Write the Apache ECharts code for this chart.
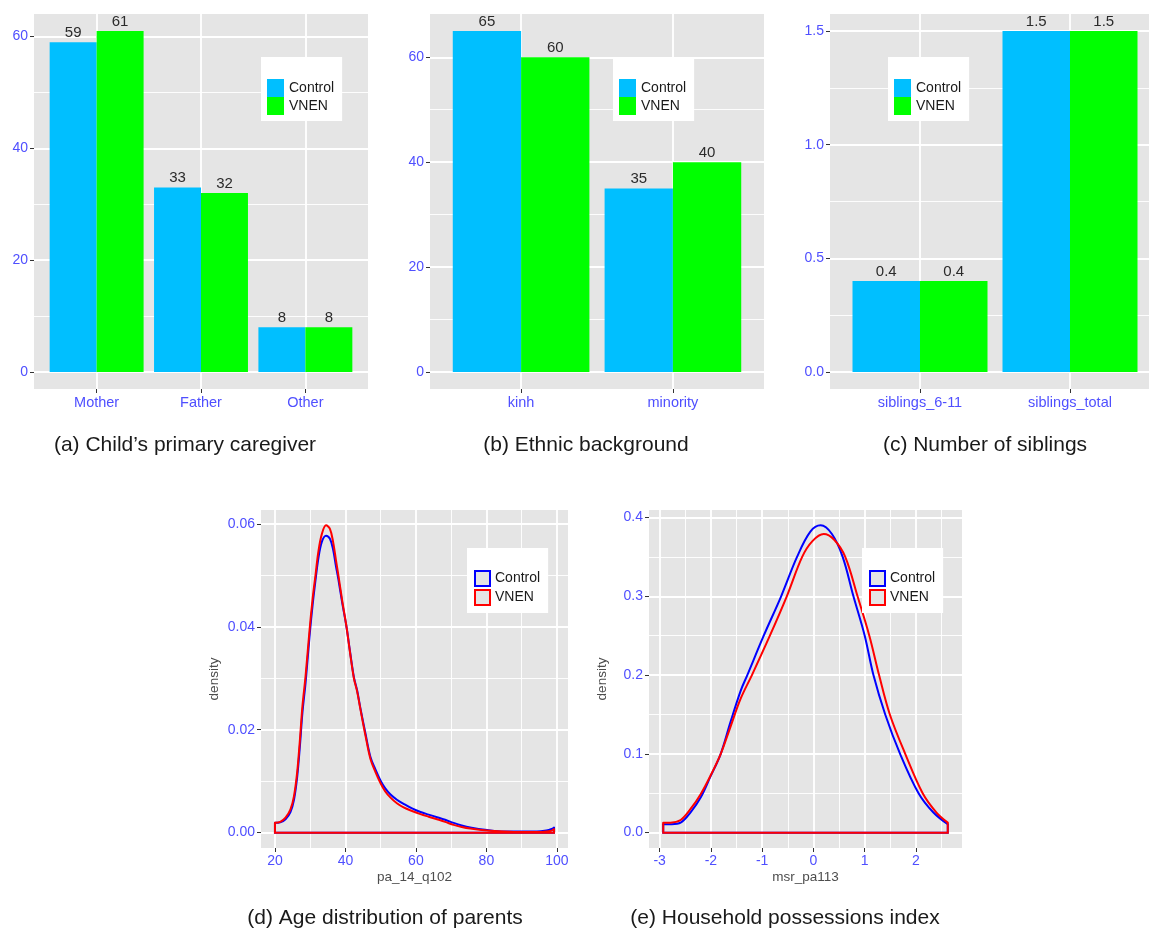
<!DOCTYPE html>
<html><head><meta charset="utf-8">
<script src="https://cdn.jsdelivr.net/npm/echarts@6/dist/echarts.min.js"></script>
<style>html,body{margin:0;padding:0;background:#fff}#c{width:1149px;height:930px}</style>
</head><body><div id="c"></div>
<script>
// ---------- data ----------
const caregiverCats = ['Mother', 'Father', 'Other'];
const caregiverControl = [59, 33, 8];
const caregiverVNEN = [61, 32, 8];
const caregiverYTicks = [0, 20, 40, 60];
const caregiverYMinor = [10, 30, 50];

const ethnicCats = ['kinh', 'minority'];
const ethnicControl = [65, 35];
const ethnicVNEN = [60, 40];
const ethnicYTicks = [0, 20, 40, 60];
const ethnicYMinor = [10, 30, 50];

const siblingCats = ['siblings_6-11', 'siblings_total'];
const siblingControl = [0.4, 1.5];
const siblingVNEN = [0.4, 1.5];
const siblingYTicks = [0, 0.5, 1.0, 1.5];
const siblingYMinor = [0.25, 0.75, 1.25];

const ageX = [20, 21.5, 23, 24.4, 25.4, 26.3, 27.1, 27.8, 28.7, 29.9, 30.7, 31.5, 32.3, 33.3, 34.5, 35.6, 36.5, 37.3, 38.0, 39.1, 40.3, 41.3, 42.4, 43.3, 44.3, 45.7, 47.1, 48.5, 49.9, 51.3, 52.8, 54.6, 56.5, 58.9, 61.3, 63.6, 66.0, 68.3, 70.7, 73.0, 75.4, 80.2, 84.9, 90, 94.3, 97, 98.5, 99.2];
const ageControl = [0.0019, 0.0020, 0.0026, 0.0040, 0.0064, 0.0108, 0.0170, 0.0233, 0.0292, 0.0388, 0.0443, 0.0490, 0.0532, 0.0565, 0.0577, 0.0571, 0.0550, 0.0518, 0.0492, 0.0446, 0.0400, 0.0352, 0.0302, 0.0277, 0.0240, 0.0192, 0.0147, 0.0123, 0.0102, 0.0086, 0.0074, 0.0064, 0.0056, 0.0047, 0.0040, 0.0035, 0.0030, 0.0025, 0.0019, 0.0014, 0.0010, 0.0005, 0.0002, 0.0002, 0.0002, 0.0004, 0.0007, 0.0010];
const ageVNEN = [0.0019, 0.0021, 0.0029, 0.0045, 0.0071, 0.0117, 0.0182, 0.0246, 0.0305, 0.0400, 0.0455, 0.0500, 0.0545, 0.0580, 0.0597, 0.0590, 0.0565, 0.0530, 0.0500, 0.0450, 0.0400, 0.0350, 0.0300, 0.0275, 0.0238, 0.0188, 0.0143, 0.0118, 0.0097, 0.0080, 0.0068, 0.0057, 0.0049, 0.0042, 0.0036, 0.0031, 0.0026, 0.0021, 0.0015, 0.0011, 0.0008, 0.0004, 0.0002, 0.0001, 0.0001, 0.0002, 0.0004, 0.0007];
const ageXTicks = [20, 40, 60, 80, 100];
const ageXMinor = [30, 50, 70, 90];
const ageYTicks = [0, 0.02, 0.04, 0.06];
const ageYMinor = [0.01, 0.03, 0.05];

const possControlX = [-2.93, -2.79, -2.59, -2.40, -2.20, -2.01, -1.81, -1.62, -1.42, -1.29, -0.97, -0.63, -0.32, -0.06, 0.14, 0.36, 0.57, 0.78, 1.00, 1.17, 1.40, 1.69, 2.05, 2.34, 2.62];
const possControlY = [0.0105, 0.0106, 0.0127, 0.0255, 0.0446, 0.0710, 0.0997, 0.140, 0.180, 0.200, 0.250, 0.300, 0.350, 0.382, 0.390, 0.379, 0.350, 0.300, 0.250, 0.200, 0.150, 0.100, 0.050, 0.0255, 0.0106];
const possVNENX = [-2.93, -2.79, -2.59, -2.40, -2.20, -2.01, -1.81, -1.62, -1.42, -1.20, -0.85, -0.52, -0.22, -0.02, 0.20, 0.40, 0.62, 0.86, 1.09, 1.28, 1.49, 1.79, 2.13, 2.40, 2.62];
const possVNENY = [0.0127, 0.0127, 0.0160, 0.0297, 0.0488, 0.0720, 0.0997, 0.134, 0.170, 0.200, 0.250, 0.300, 0.350, 0.370, 0.379, 0.372, 0.350, 0.300, 0.250, 0.200, 0.150, 0.100, 0.050, 0.0255, 0.0127];
const possXTicks = [-3, -2, -1, 0, 1, 2];
const possXMinor = [-2.5, -1.5, -0.5, 0.5, 1.5, 2.5];
const possYTicks = [0, 0.1, 0.2, 0.3, 0.4];
const possYMinor = [0.05, 0.15, 0.25, 0.35];

const captions = ['(a) Child\u2019s primary caregiver', '(b) Ethnic background', '(c) Number of siblings', '(d) Age distribution of parents', '(e) Household possessions index'];

// ---------- style ----------
const FONT = '"Liberation Sans", Arial, Helvetica, sans-serif';
const TICK_TXT = '#4f4fff';
const PANEL_BG = '#e5e5e5';
const C_CONTROL_BAR = '#00bfff', C_VNEN_BAR = '#00ff00';
const C_CONTROL_LINE = '#0000ff', C_VNEN_LINE = '#ff0000';

const grids = [], xAxes = [], yAxes = [], series = [], legends = [], graphics = [];

function addPanel(p) {
  const gi = grids.length;
  grids.push({left: p.left, top: p.top, width: p.width, height: p.height, show: true,
    backgroundColor: PANEL_BG, borderWidth: 0, containLabel: false, outerBoundsMode: 'none'});
  const xi = xAxes.length, yi = yAxes.length;
  const tickStyle = {show: true, length: 4, lineStyle: {color: '#333', width: 1}};
  const labStyle = {show: true, color: TICK_TXT, fontSize: 14, fontFamily: FONT};
  const hiddenTick = {show: false, length: 0, lineStyle: {color: 'rgba(0,0,0,0)'}};
  xAxes.push({type: 'value', gridIndex: gi, min: p.xMin, max: p.xMax, position: 'bottom',
    axisLine: {show: false, onZero: false},
    axisTick: Object.assign({customValues: p.xMajor}, tickStyle),
    axisLabel: Object.assign({customValues: p.xMajor, formatter: p.xFmt, margin: p.xMargin || 6}, labStyle,
      p.xLabelSize ? {fontSize: p.xLabelSize} : {}),
    splitLine: {show: true, lineStyle: {color: '#ffffff', width: 1.8}},
    name: p.xName || '', nameLocation: 'middle', nameGap: 22,
    nameTextStyle: {color: '#4d4d4d', fontSize: 13.5, fontFamily: FONT}
  });
  if (p.xMinor) {
    xAxes.push({type: 'value', gridIndex: gi, min: p.xMin, max: p.xMax, position: 'top',
      axisLine: {show: false, onZero: false}, axisTick: Object.assign({customValues: p.xMinor}, hiddenTick),
      axisLabel: {show: false, customValues: p.xMinor},
      splitLine: {show: true, lineStyle: {color: '#ffffff', width: 0.9}}});
  }
  yAxes.push({type: 'value', gridIndex: gi, min: p.yMin, max: p.yMax, position: 'left',
    axisLine: {show: false, onZero: false},
    axisTick: Object.assign({customValues: p.yMajor}, tickStyle),
    axisLabel: Object.assign({customValues: p.yMajor, formatter: p.yFmt, margin: 6}, labStyle),
    splitLine: {show: true, lineStyle: {color: '#ffffff', width: 1.8}},
    name: p.yName || '', nameLocation: 'middle', nameGap: 40, nameRotate: 90,
    nameTextStyle: {color: '#4d4d4d', fontSize: 13.5, fontFamily: FONT}
  });
  yAxes.push({type: 'value', gridIndex: gi, min: p.yMin, max: p.yMax, position: 'right',
    axisLine: {show: false, onZero: false}, axisTick: Object.assign({customValues: p.yMinor}, hiddenTick),
    axisLabel: {show: false, customValues: p.yMinor},
    splitLine: {show: true, lineStyle: {color: '#ffffff', width: 0.9}}});
  return {xi, yi};
}

function barPanel(cats, ctrl, vnen, yMajor, yMinor, yFmt, geo, legendPos) {
  const maxV = Math.max(...ctrl, ...vnen);
  const ax = addPanel(Object.assign({}, geo, {
    xMin: 0.4, xMax: cats.length + 0.6,
    xMajor: cats.map((c, i) => i + 1),
    xFmt: v => cats[Math.round(v) - 1] || '',
    xLabelSize: 14.5,
    yMin: -0.05 * maxV, yMax: 1.05 * maxV, yMajor, yMinor, yFmt
  }));
  const mk = (name, vals, color) => ({
    type: 'bar', name, xAxisIndex: ax.xi, yAxisIndex: ax.yi,
    data: vals.map((v, i) => [i + 1, v]),
    barWidth: '45%', barGap: '0%',
    itemStyle: {color},
    label: {show: true, position: 'top', distance: 2, color: '#2b2b2b', fontSize: 15, fontFamily: FONT,
      formatter: p => String(p.value[1])},
    emphasis: {disabled: true}, animation: false
  });
  series.push(mk('Control', ctrl, C_CONTROL_BAR), mk('VNEN', vnen, C_VNEN_BAR));
  legends.push({left: legendPos[0], top: legendPos[1], orient: 'vertical', itemGap: 0,
    itemWidth: 17, itemHeight: 18, padding: [22, 8, 6, 6], backgroundColor: '#ffffff',
    selectedMode: false, textStyle: {fontSize: 14, color: '#1a1a1a', fontFamily: FONT},
    data: [{name: 'Control', icon: 'rect', itemStyle: {color: C_CONTROL_BAR, borderWidth: 0}},
           {name: 'VNEN', icon: 'rect', itemStyle: {color: C_VNEN_BAR, borderWidth: 0}}]});
}

function densityPanel(xc, yc, xv, yv, xMajor, xMinor, yMajor, yMinor, xFmt, yFmt, xName, geo, legendPos) {
  const xs = xc.concat(xv);
  const lo = Math.min(...xs), hi = Math.max(...xs), span = hi - lo;
  const ymax = Math.max(...yc, ...yv);
  const ax = addPanel(Object.assign({}, geo, {
    xMin: lo - 0.05 * span, xMax: hi + 0.05 * span, xMajor, xMinor, xFmt, xName,
    yMin: -0.05 * ymax, yMax: 1.05 * ymax, yMajor, yMinor, yFmt, yName: 'density'
  }));
  const curve = (name, X, Y, color) => ({
    type: 'line', name, xAxisIndex: ax.xi, yAxisIndex: ax.yi,
    data: X.map((x, i) => [x, Y[i]]), smooth: 0.35,
    symbol: 'none', lineStyle: {color, width: 2, join: 'round', cap: 'round'}, itemStyle: {color},
    emphasis: {disabled: true}, animation: false
  });
  const outline = (name, X, Y, color) => {
    const n = X.length;
    return {type: 'line', name, xAxisIndex: ax.xi, yAxisIndex: ax.yi,
      data: [[X[n - 1], Y[n - 1]], [X[n - 1], 0], [X[0], 0], [X[0], Y[0]]],
      symbol: 'none', lineStyle: {color, width: 2, join: 'miter'}, itemStyle: {color},
      emphasis: {disabled: true}, animation: false};
  };
  series.push(curve('Control', xc, yc, C_CONTROL_LINE), outline('Control', xc, yc, C_CONTROL_LINE),
              curve('VNEN', xv, yv, C_VNEN_LINE), outline('VNEN', xv, yv, C_VNEN_LINE));
  legends.push({left: legendPos[0], top: legendPos[1], orient: 'vertical', itemGap: 2,
    itemWidth: 15, itemHeight: 15, padding: [22, 8, 7, 7], backgroundColor: '#ffffff',
    selectedMode: false, textStyle: {fontSize: 14, color: '#1a1a1a', fontFamily: FONT},
    data: [{name: 'Control', icon: 'rect', itemStyle: {color: PANEL_BG, borderColor: C_CONTROL_LINE, borderWidth: 2}},
           {name: 'VNEN', icon: 'rect', itemStyle: {color: PANEL_BG, borderColor: C_VNEN_LINE, borderWidth: 2}}]});
}

barPanel(caregiverCats, caregiverControl, caregiverVNEN, caregiverYTicks, caregiverYMinor, v => String(v),
  {left: 34, top: 14, width: 334, height: 375}, [261, 57]);
barPanel(ethnicCats, ethnicControl, ethnicVNEN, ethnicYTicks, ethnicYMinor, v => String(v),
  {left: 430, top: 14, width: 334, height: 375}, [613, 57]);
barPanel(siblingCats, siblingControl, siblingVNEN, siblingYTicks, siblingYMinor, v => v.toFixed(1),
  {left: 830, top: 14, width: 330, height: 375}, [888, 57]);
densityPanel(ageX, ageControl, ageX, ageVNEN, ageXTicks, ageXMinor, ageYTicks, ageYMinor,
  v => String(v), v => v.toFixed(2), 'pa_14_q102', {left: 261, top: 510, width: 307, height: 338}, [467, 548]);
densityPanel(possControlX, possControlY, possVNENX, possVNENY, possXTicks, possXMinor, possYTicks, possYMinor,
  v => String(v), v => v.toFixed(1), 'msr_pa113', {left: 649, top: 510, width: 313, height: 338}, [862, 548]);

const capPos = [[185, 445], [586, 445], [985, 445], [385, 918], [785, 918]];
captions.forEach((t, i) => graphics.push({type: 'text', x: capPos[i][0], y: capPos[i][1], silent: true,
  style: {text: t, font: '21px ' + FONT, fill: '#1a1a1a', align: 'center', verticalAlign: 'middle',
    textAlign: 'center', textVerticalAlign: 'middle'}}));

const chart = echarts.init(document.getElementById('c'), null, {renderer: 'canvas'});
chart.setOption({
  animation: false,
  backgroundColor: '#ffffff',
  grid: grids, xAxis: xAxes, yAxis: yAxes, series, legend: legends, graphic: graphics,
  tooltip: {show: false}
});
</script></body></html>
